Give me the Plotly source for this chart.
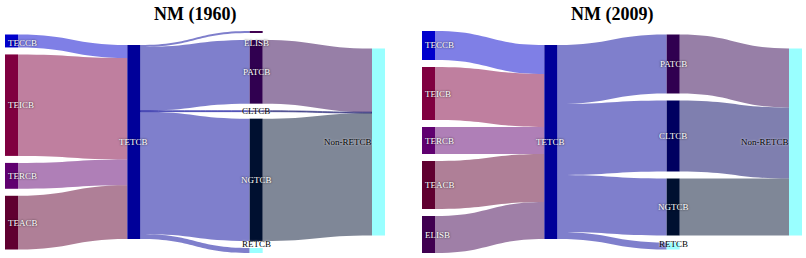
import plotly.graph_objects as go

# ---- data (arbitrary energy units) ----
labels_1960 = ["TECCB", "TEICB", "TERCB", "TEACB", "TETCB",
               "ELISB", "PATCB", "CLTCB", "NGTCB", "RETCB", "Non-RETCB"]
src_1960 = ["TECCB", "TEICB", "TERCB", "TEACB",
            "TETCB", "TETCB", "TETCB", "TETCB", "TETCB",
            "PATCB", "CLTCB", "NGTCB"]
tgt_1960 = ["TETCB", "TETCB", "TETCB", "TETCB",
            "ELISB", "PATCB", "CLTCB", "NGTCB", "RETCB",
            "Non-RETCB", "Non-RETCB", "Non-RETCB"]
val_1960 = [13, 102, 26, 54,
            2, 64, 1, 123, 5,
            64, 1, 123]

labels_2009 = ["TECCB", "TEICB", "TERCB", "TEACB", "ELISB", "TETCB",
               "PATCB", "CLTCB", "NGTCB", "RETCB", "Non-RETCB"]
src_2009 = ["TECCB", "TEICB", "TERCB", "TEACB", "ELISB",
            "TETCB", "TETCB", "TETCB", "TETCB",
            "PATCB", "CLTCB", "NGTCB"]
tgt_2009 = ["TETCB", "TETCB", "TETCB", "TETCB", "TETCB",
            "PATCB", "CLTCB", "NGTCB", "RETCB",
            "Non-RETCB", "Non-RETCB", "Non-RETCB"]
val_2009 = [29, 53, 27, 48, 37,
            59, 71, 57, 7,
            59, 71, 57]

titles = ["NM (1960)", "NM (2009)"]

# ---- styles ----
FIG_W, FIG_H = 806, 258
THICK = 13          # node thickness, px
GAP = 7             # node padding, px
node_rgb = {
    "TECCB": (0, 0, 205), "TEICB": (128, 0, 64), "TERCB": (96, 0, 112),
    "TEACB": (96, 0, 48), "ELISB": (64, 0, 80), "TETCB": (0, 0, 153),
    "PATCB": (48, 0, 80), "CLTCB": (0, 0, 96), "NGTCB": (0, 16, 48),
    "RETCB": (153, 255, 255), "Non-RETCB": (153, 255, 255),
}
dark_labels = [{"CLTCB", "RETCB", "Non-RETCB"}, {"RETCB", "Non-RETCB"}]
domains_x = [[5 / FIG_W, 385 / FIG_W], [422 / FIG_W, 802 / FIG_W]]
domain_y = [1 - 253 / FIG_H, 1 - 31 / FIG_H]
LABEL_TOP, LABEL_BOTTOM = 12, 9   # keep labels this far inside the domain (px)


def rgba(name, a):
    r, g, b = node_rgb[name]
    return f"rgba({r},{g},{b},{a})"


def build(labels, src, tgt, val, xdom, dark):
    idx = {n: i for i, n in enumerate(labels)}
    # node values and depths (left-aligned columns)
    vin = {n: 0 for n in labels}
    vout = {n: 0 for n in labels}
    for s, t, v in zip(src, tgt, val):
        vout[s] += v
        vin[t] += v
    nval = {n: max(vin[n], vout[n]) for n in labels}
    depth = {}

    def get_depth(n):
        if n not in depth:
            parents = [s for s, t in zip(src, tgt) if t == n]
            depth[n] = 0 if not parents else 1 + max(get_depth(p) for p in parents)
        return depth[n]

    for n in labels:
        get_depth(n)
    ncol = max(depth.values()) + 1
    cols = [[n for n in labels if depth[n] == c] for c in range(ncol)]

    W = (xdom[1] - xdom[0]) * FIG_W
    H = (domain_y[1] - domain_y[0]) * FIG_H
    ky = min((H - (len(c) - 1) * GAP) / sum(nval[n] for n in c) for c in cols)

    xs, ys = [0] * len(labels), [0] * len(labels)
    centers = {}
    for ci, c in enumerate(cols):
        xc = THICK / 2 + ci * (W - THICK) / (ncol - 1)
        extent = sum(nval[n] for n in c) * ky + (len(c) - 1) * GAP
        y = (H - extent) / 2
        for n in c:
            h = nval[n] * ky
            yc = y + h / 2
            xs[idx[n]] = xc / W
            ys[idx[n]] = max(yc, 0.01) / H
            centers[n] = (ci, xc, yc)
            y += h + GAP

    trace = go.Sankey(
        domain=dict(x=xdom, y=domain_y),
        arrangement="fixed",
        node=dict(
            label=[""] * len(labels),
            customdata=labels,
            hovertemplate="%{customdata}<extra></extra>",
            color=[rgba(n, 1) for n in labels],
            pad=GAP, thickness=THICK, align="left",
            line=dict(width=0),
            x=xs, y=ys,
        ),
        link=dict(
            source=[idx[s] for s in src],
            target=[idx[t] for t in tgt],
            value=val,
            color=[rgba(s, 0.5) for s in src],
        ),
    )

    anns = []
    for n in labels:
        ci, xc, yc = centers[n]
        yl = min(max(yc, LABEL_TOP), H - LABEL_BOTTOM)
        if ci == 0:
            xa, xp = "left", xc - THICK / 2 + 2
        elif ci == ncol - 1:
            xa, xp = "right", xc - THICK / 2 + 1
        else:
            xa, xp = "center", xc
        is_dark = n in dark
        anns.append(dict(
            text=n, xref="paper", yref="paper",
            x=xdom[0] + xp / FIG_W, y=domain_y[1] - yl / FIG_H,
            xanchor=xa, yanchor="middle", showarrow=False, borderpad=0,
            font=dict(family="Liberation Serif", size=9,
                      color="black" if is_dark else "white",
                      shadow=("0px 0px 2px rgba(255,255,255,0.9)" if is_dark
                              else "0px 0px 2px rgba(0,0,0,0.9)")),
        ))
    return trace, anns


fig = go.Figure()
data_sets = [(labels_1960, src_1960, tgt_1960, val_1960),
             (labels_2009, src_2009, tgt_2009, val_2009)]
for k, (lab, s, t, v) in enumerate(data_sets):
    tr, anns = build(lab, s, t, v, domains_x[k], dark_labels[k])
    fig.add_trace(tr)
    for a in anns:
        fig.add_annotation(**a)

for t, xd in zip(titles, domains_x):
    fig.add_annotation(text=f"<b>{t}</b>", x=(xd[0] + xd[1]) / 2, y=1 - 15 / FIG_H,
                       xref="paper", yref="paper", showarrow=False,
                       xanchor="center", yanchor="middle",
                       font=dict(family="Liberation Serif", size=18, color="black"))

fig.update_layout(width=FIG_W, height=FIG_H, margin=dict(l=0, r=0, t=0, b=0),
                  paper_bgcolor="white", plot_bgcolor="white",
                  font=dict(family="Liberation Serif"))
fig.write_html("out.html", config={"displayModeBar": False},
               post_script="document.body.style.margin='0';"
                           "document.body.style.overflow='hidden';")
